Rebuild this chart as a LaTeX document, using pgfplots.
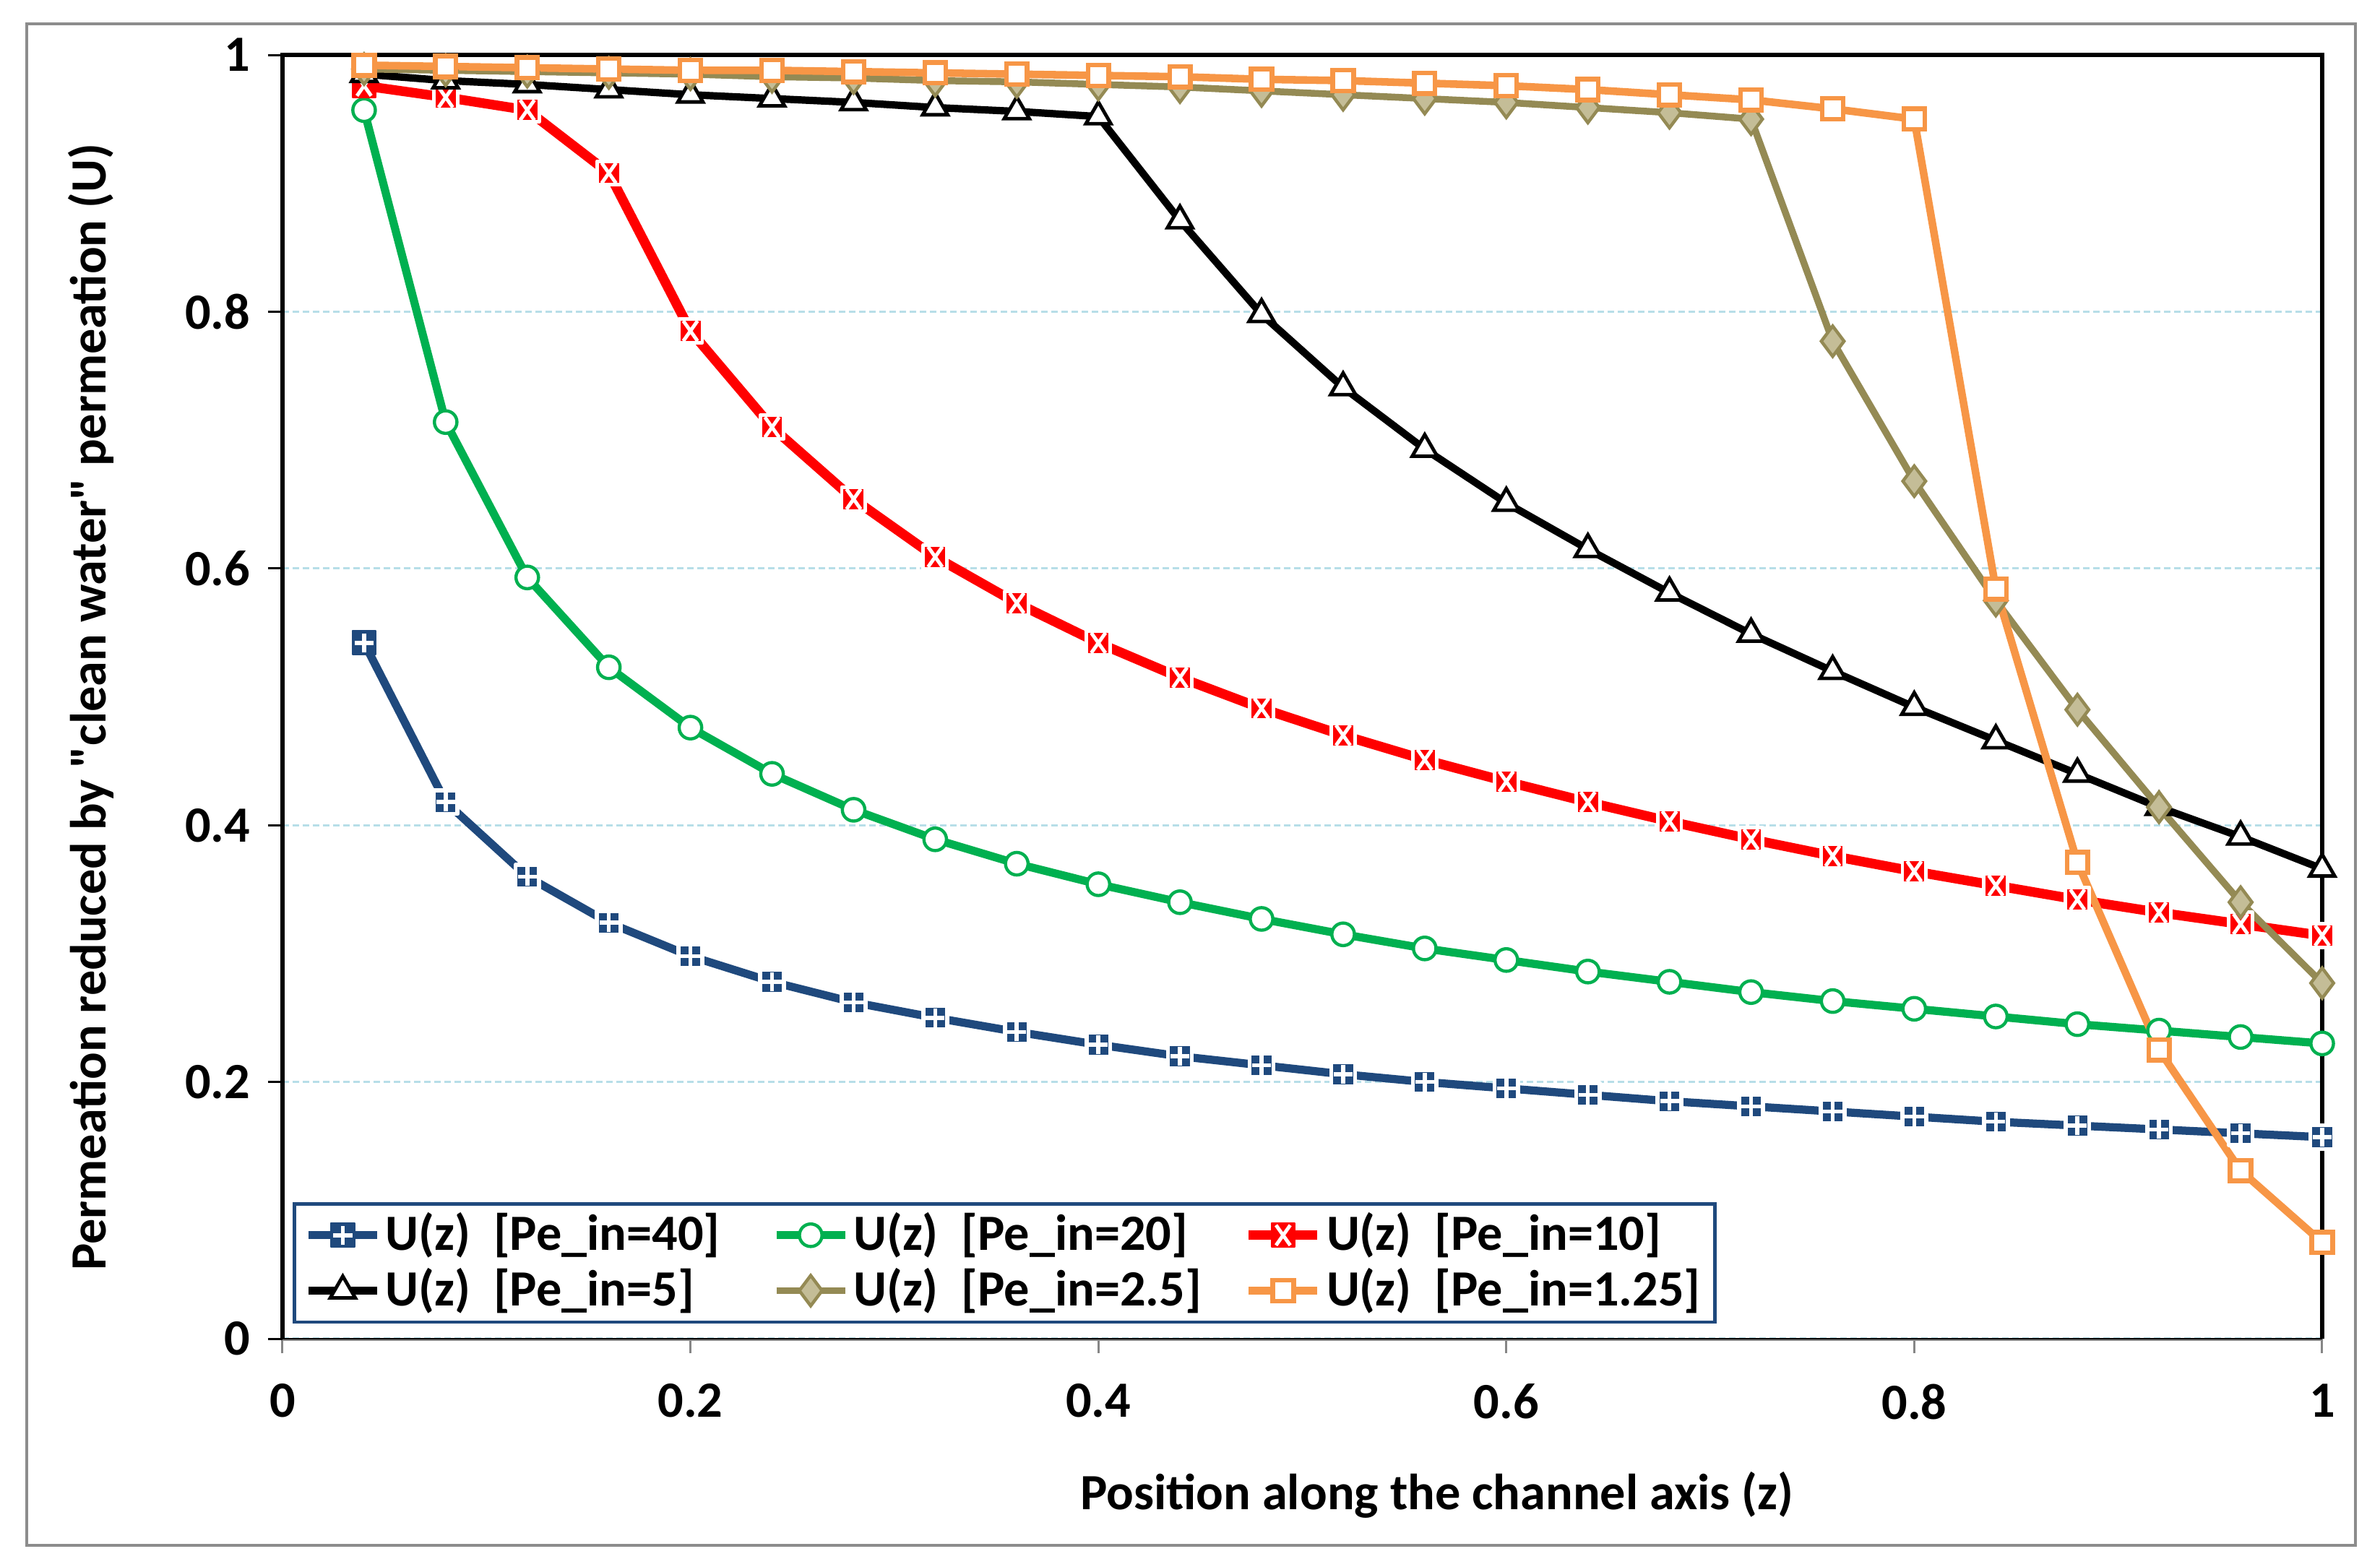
\documentclass[border=0pt]{standalone}
\usepackage{fontspec}
\setmainfont{Carlito}[Ligatures=TeXOff]
\usepackage{pgfplots}
\pgfplotsset{compat=1.18}
\usepackage{pgfplotstable}

\definecolor{c40}{HTML}{1F497D}
\definecolor{c20}{HTML}{00B050}
\definecolor{c10}{HTML}{FF0000}
\definecolor{c25}{HTML}{948A54}
\definecolor{c25fill}{HTML}{C4BD97}
\definecolor{c125}{HTML}{F79646}
\definecolor{gridblue}{HTML}{B7DEE8}
\definecolor{framegray}{HTML}{8C8C8C}
\definecolor{tickgray}{HTML}{868686}

\pgfdeclareplotmark{sqplus}{%
  \pgfsetroundjoin
  \pgfpathrectangle{\pgfqpoint{-\pgfplotmarksize}{-\pgfplotmarksize}}{\pgfqpoint{2\pgfplotmarksize}{2\pgfplotmarksize}}%
  \pgfusepathqfillstroke
  \pgfsetstrokecolor{white}%
  \pgfsetbuttcap
  \pgfsetlinewidth{0.34\pgfplotmarksize}%
  \pgfpathmoveto{\pgfqpoint{-0.8\pgfplotmarksize}{0pt}}\pgfpathlineto{\pgfqpoint{0.8\pgfplotmarksize}{0pt}}%
  \pgfpathmoveto{\pgfqpoint{0pt}{-0.8\pgfplotmarksize}}\pgfpathlineto{\pgfqpoint{0pt}{0.8\pgfplotmarksize}}%
  \pgfusepathqstroke
}
\pgfdeclareplotmark{sqx}{%
  \pgfsetroundjoin
  \pgfpathrectangle{\pgfqpoint{-\pgfplotmarksize}{-\pgfplotmarksize}}{\pgfqpoint{2\pgfplotmarksize}{2\pgfplotmarksize}}%
  \pgfusepathqfillstroke
  \pgfsetstrokecolor{white}%
  \pgfsetbuttcap
  \pgfsetlinewidth{0.3\pgfplotmarksize}%
  \pgfpathmoveto{\pgfqpoint{-0.6\pgfplotmarksize}{-0.85\pgfplotmarksize}}\pgfpathlineto{\pgfqpoint{0.6\pgfplotmarksize}{0.85\pgfplotmarksize}}%
  \pgfpathmoveto{\pgfqpoint{-0.6\pgfplotmarksize}{0.85\pgfplotmarksize}}\pgfpathlineto{\pgfqpoint{0.6\pgfplotmarksize}{-0.85\pgfplotmarksize}}%
  \pgfusepathqstroke
}

\pgfplotstableread{
z p40 p20 p10 p5 p25 p125
0.04 0.542 0.957 0.976 0.985 0.989 0.992
0.08 0.418 0.714 0.967 0.980 0.988 0.991
0.12 0.360 0.593 0.957 0.977 0.987 0.990
0.16 0.324 0.523 0.908 0.973 0.986 0.989
0.20 0.298 0.476 0.785 0.969 0.985 0.988
0.24 0.278 0.440 0.710 0.966 0.983 0.988
0.28 0.262 0.412 0.654 0.963 0.982 0.987
0.32 0.250 0.389 0.609 0.959 0.980 0.986
0.36 0.239 0.370 0.573 0.956 0.979 0.985
0.40 0.229 0.354 0.542 0.952 0.977 0.984
0.44 0.220 0.340 0.515 0.871 0.975 0.983
0.48 0.213 0.327 0.491 0.798 0.972 0.981
0.52 0.206 0.315 0.470 0.741 0.969 0.980
0.56 0.200 0.304 0.451 0.693 0.966 0.978
0.60 0.195 0.295 0.434 0.651 0.963 0.976
0.64 0.190 0.286 0.418 0.615 0.959 0.973
0.68 0.185 0.278 0.403 0.581 0.955 0.969
0.72 0.181 0.270 0.389 0.549 0.950 0.965
0.76 0.177 0.263 0.376 0.520 0.777 0.958
0.80 0.173 0.257 0.364 0.492 0.668 0.950
0.84 0.169 0.251 0.353 0.466 0.575 0.584
0.88 0.166 0.245 0.342 0.440 0.490 0.371
0.92 0.163 0.240 0.332 0.414 0.414 0.225
0.96 0.160 0.235 0.323 0.391 0.340 0.131
1.00 0.157 0.230 0.314 0.366 0.277 0.075
}\datatable

\begin{document}
\begin{tikzpicture}
\useasboundingbox (-1.955cm,-1.575cm) rectangle (14.515cm,9.265cm);
\draw[framegray, line width=0.0225cm] (-1.77cm,-1.43cm) rectangle (14.345cm,9.1cm);
\begin{axis}[
  at={(0,0)}, anchor=south west,
  scale only axis, width=14.115cm, height=8.885cm,
  xmin=0, xmax=1, ymin=0, ymax=1,
  xtick={0,0.2,0.4,0.6,0.8,1},
  ytick={0,0.2,0.4,0.6,0.8,1},
  xtick pos=lower, ytick pos=left,
  axis line style={draw=none},
  tick align=outside,
  major tick length=0.1cm,
  xtick style={draw=tickgray, line width=0.015cm},
  ytick style={draw=black, line width=0.015cm},
  ymajorgrids,
  grid style={gridblue, dash pattern=on 0.045cm off 0.025cm, line width=0.016cm},
  /pgf/number format/assume math mode=true,
  ticklabel style={font=\bfseries},
  xticklabel style={yshift=-0.09cm},
  xlabel={Position along the channel axis (z)},
  ylabel={Permeation reduced by "clean water" permeation (U)},
  label style={font=\bfseries},
  xlabel style={at={(axis description cs:0.566,-0.1216)}, anchor=center},
  ylabel style={at={(axis description cs:-0.0939,0.492)}, anchor=center},
  clip=false,
  legend columns=3,
  legend cell align=left,
  legend image code/.code={\draw[mark repeat=2,mark phase=2] plot coordinates {(0cm,0cm) (0.2375cm,0cm) (0.475cm,0cm)};},
  legend style={at={(0.005,0.0118)}, anchor=south west, draw=c40, line width=0.022cm,
    font=\bfseries, inner xsep=0.07cm, inner ysep=0.025cm,
    nodes={inner ysep=0.035cm, inner xsep=0.03cm},
    /tikz/column 2/.style={column sep=0.332cm},
    /tikz/column 4/.style={column sep=0.264cm},
    row sep=0cm},
]
\draw[black, line width=0.03cm] (rel axis cs:0,0) -- (rel axis cs:0,1) -- (rel axis cs:1,1) -- (rel axis cs:1,0);
\draw[tickgray, line width=0.02cm] ([yshift=-0.006cm]rel axis cs:0,0) -- ([yshift=-0.006cm]rel axis cs:1,0);
\draw[black, line width=0.006cm] (rel axis cs:0,0) -- (rel axis cs:1,0);

\addplot[c40, line width=1.6pt, mark=sqplus, mark size=0.082cm, mark options={fill=c40, draw=c40, line width=0.01cm}] table[x=z, y=p40] {\datatable};
\addlegendentry{U(z)\ \ [Pe\_in=40]}
\addplot[c20, line width=1.6pt, mark=*, mark size=0.078cm, mark options={fill=white, draw=c20, line width=0.022cm}] table[x=z, y=p20] {\datatable};
\addlegendentry{U(z)\ \ [Pe\_in=20]}
\addplot[c10, line width=1.9pt, mark=sqx, mark size=0.082cm, mark options={fill=c10, draw=c10, line width=0.01cm}] table[x=z, y=p10] {\datatable};
\addlegendentry{U(z)\ \ [Pe\_in=10]}
\addplot[black, line width=1.45pt, mark=triangle*, mark size=0.1cm, mark options={fill=white, draw=black, line width=0.024cm}] table[x=z, y=p5] {\datatable};
\addlegendentry{U(z)\ \ [Pe\_in=5]}
\addplot[c25, line width=1.35pt, mark=diamond*, mark size=0.105cm, mark options={fill=c25fill, draw=c25, line width=0.022cm}] table[x=z, y=p25] {\datatable};
\addlegendentry{U(z)\ \ [Pe\_in=2.5]}
\addplot[c125, line width=1.5pt, mark=square*, mark size=0.072cm, mark options={fill=white, draw=c125, line width=0.032cm}] table[x=z, y=p125] {\datatable};
\addlegendentry{U(z)\ \ [Pe\_in=1.25]}
\end{axis}
\end{tikzpicture}
\end{document}
